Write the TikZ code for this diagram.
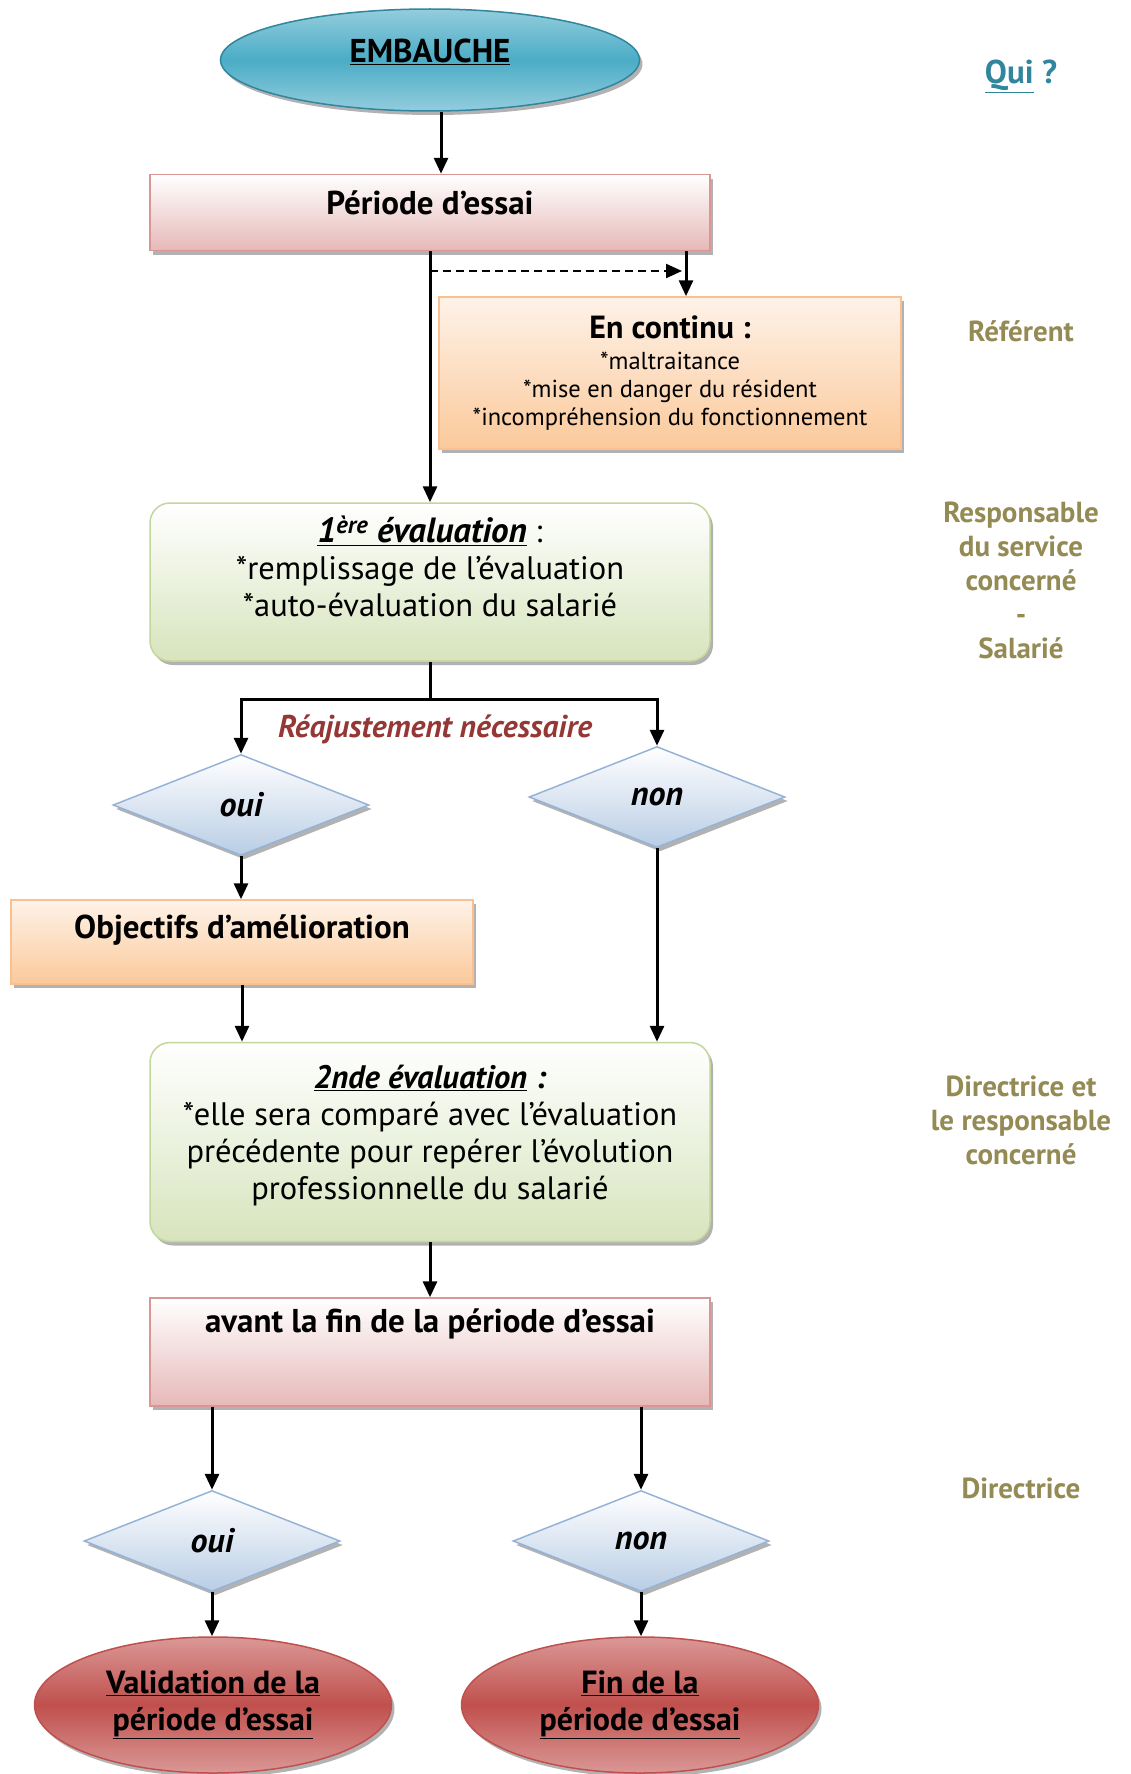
\documentclass[tikz,border=0pt]{standalone}
\usepackage{fontspec}
\setmainfont{PT Sans}
\usepackage{xcolor}
\usepackage{tikz}
\usetikzlibrary{shapes.geometric, arrows.meta, positioning, shadows}
\definecolor{teal}{HTML}{31859C}
\definecolor{cyanmid}{HTML}{4BACC6}
\definecolor{cyanlight}{HTML}{93CDDD}
\definecolor{pinkline}{HTML}{D99694}
\definecolor{pinkfill}{HTML}{E6B9B8}
\definecolor{peachline}{HTML}{FAC090}
\definecolor{peachfill}{HTML}{FBC99A}
\definecolor{greenline}{HTML}{C3D69B}
\definecolor{greenfill}{HTML}{D7E4BD}
\definecolor{blueline}{HTML}{95B3D7}
\definecolor{bluefill}{HTML}{B9CDE5}
\definecolor{redmid}{HTML}{C0504D}
\definecolor{redlight}{HTML}{DA9896}
\definecolor{olive}{HTML}{948A54}
\definecolor{darkred}{HTML}{953735}
\tikzset{
  boxshadow/.style={drop shadow={shadow xshift=3pt, shadow yshift=-4pt, fill=black, opacity=0.3}},
  hireoval/.style={ellipse, draw=teal, line width=1.5pt, top color=cyanlight, bottom color=cyanlight, middle color=cyanmid, minimum width=419pt, minimum height=102pt, inner sep=0pt, text depth=18pt, font=\fontsize{33}{38}\selectfont\bfseries, boxshadow},
  endoval/.style={ellipse, draw=redmid, line width=1.5pt, top color=redlight, bottom color=redlight, middle color=redmid, minimum width=357pt, minimum height=136pt, inner sep=0pt, align=center, font=\fontsize{32}{37}\selectfont\bfseries, boxshadow},
  pinkbox/.style={rectangle, draw=pinkline, line width=1.5pt, top color=white, bottom color=pinkfill, minimum width=560pt, align=center, font=\fontsize{33}{38}\selectfont\bfseries, boxshadow},
  peachbox/.style={rectangle, draw=peachline, line width=1.5pt, top color=peachline!20, bottom color=peachfill, minimum width=462pt, align=center, font=\fontsize{24.5}{28}\selectfont, boxshadow},
  greenbox/.style={rectangle, draw=greenline, line width=1.5pt, top color=white, bottom color=greenfill, rounded corners=20pt, minimum width=560pt, align=center, font=\fontsize{32.5}{37}\selectfont, boxshadow},
  choice/.style={diamond, draw=blueline, line width=1.5pt, top color=white, bottom color=bluefill, minimum width=256pt, minimum height=101pt, aspect=2.53, inner sep=0pt, font=\fontsize{34}{38}\selectfont\bfseries\itshape, boxshadow},
  who/.style={align=center, text=olive, font=\fontsize{29}{34}\selectfont\bfseries},
  arrow/.style={-{Triangle[length=16pt, width=14pt]}, line width=3pt, color=black},
  dasharrow/.style={arrow, line width=2.2pt, dash pattern=on 8pt off 5pt},
  link/.style={line width=3pt, color=black},
}

\begin{document}
\begin{tikzpicture}[x=1pt, y=-1pt]
  \useasboundingbox (0,0) rectangle (1131,1774);
  \node[hireoval] (embauche) at (430,60) {\underline{EMBAUCHE}};
  \node[pinkbox, minimum height=76pt, text depth=20pt, below=62pt of embauche] (periode) {Période d’essai};
  \node[peachbox, minimum height=152pt] (continu) at (670,373) {{\fontsize{32}{38}\selectfont\bfseries En continu :}\\[3pt]
    *maltraitance\\
    *mise en danger du résident\\
    *incompréhension du fonctionnement};
  \node[greenbox, minimum height=158pt, text depth=31pt, below=251pt of periode] (eval1) {{\fontsize{35}{38}\selectfont\underline{\bfseries\itshape 1\textsuperscript{ère} évaluation}} :\\
    *remplissage de l’évaluation\\ *auto-évaluation du salarié};
  \node[choice] (oui1) at (241,805) {oui};
  \node[choice] (non1) at (657,797) {non};
  \node[pinkbox, minimum width=462pt, minimum height=84pt, text depth=30pt, top color=peachline!20, bottom color=peachfill, draw=peachline] (objectifs) at (242,942) {Objectifs d’amélioration};
  \node[greenbox, minimum height=199pt, text depth=20pt] (eval2) at (430,1142) {\underline{\bfseries\itshape 2nde évaluation} \textbf{\textit{:}}\\
    *elle sera comparé avec l’évaluation\\ précédente pour repérer l’évolution\\ professionnelle du salarié};
  \node[pinkbox, minimum height=108pt, text height=22pt, text depth=62pt, below=55pt of eval2] (avant) {avant la fin de la période d’essai};
  \node[choice] (oui2) at (212,1541) {oui};
  \node[choice] (non2) at (641,1541) {non};
  \node[endoval] (valid) at (213,1705) {\underline{Validation de la}\\ \underline{période d’essai}};
  \node[endoval] (fin) at (640,1705) {\underline{Fin de la}\\ \underline{période d’essai}};
  \node[text=darkred, font=\fontsize{31.5}{36}\selectfont\bfseries\itshape] (reaj) at (435,729) {Réajustement nécessaire};
  \node[text=teal, font=\fontsize{33}{38}\selectfont\bfseries] (qui) at (1021,76) {\underline{Qui} ?};
  \node[who] (w1) at (1021,331) {Référent};
  \node[who] (w2) at (1021,580) {Responsable\\ du service\\ concerné\\ -\\ Salarié};
  \node[who] (w3) at (1021,1120) {Directrice et\\ le responsable\\ concerné};
  \node[who] (w4) at (1021,1488) {Directrice};
  \coordinate (d1) at (430,271);
  \coordinate (d2) at (682,271);
  \coordinate (d3) at (686,271);
  \coordinate (split) at (430,699);
  \draw[arrow] ([xshift=11pt]embauche.south) -- ([xshift=11pt]periode.north);
  \draw[arrow] (periode) -- (eval1);
  \draw[dasharrow] (d1) -- (d2);
  \draw[arrow] (periode.south -| d3) -- (continu.north -| d3);
  \draw[link] (eval1.south) -- (split);
  \draw[arrow] (split) -| (oui1);
  \draw[arrow] (split) -| (non1);
  \draw[arrow] (oui1.south) -- (oui1.south |- objectifs.north);
  \draw[arrow] (objectifs.south) -- (objectifs.south |- eval2.north);
  \draw[arrow] (non1.south) -- (non1.south |- eval2.north);
  \draw[arrow] (eval2) -- (avant);
  \draw[arrow] (avant.south -| oui2) -- (oui2.north);
  \draw[arrow] (avant.south -| non2) -- (non2.north);
  \draw[arrow] (oui2.south) -- (oui2.south |- valid.north);
  \draw[arrow] (non2.south) -- (non2.south |- fin.north);
\end{tikzpicture}
\end{document}
